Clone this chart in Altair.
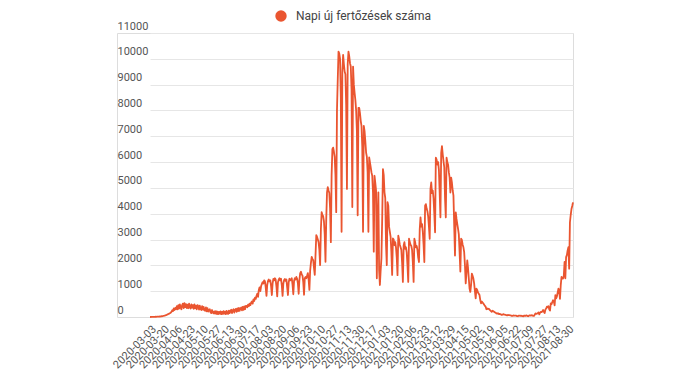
import altair as alt
import pandas as pd

START_DATE = "2020-03-03"
SERIES_NAME = "Napi új fertőzések száma"
LINE_COLOR = "#ea5530"

TICK_DATES = [
    "2020-03-03", "2020-03-20", "2020-04-06", "2020-04-23", "2020-05-10",
    "2020-05-27", "2020-06-13", "2020-06-30", "2020-07-17", "2020-08-03",
    "2020-08-20", "2020-09-06", "2020-09-23", "2020-10-10", "2020-10-27",
    "2020-11-13", "2020-11-30", "2020-12-17", "2021-01-03", "2021-01-20",
    "2021-02-06", "2021-02-23", "2021-03-12", "2021-03-29", "2021-04-15",
    "2021-05-02", "2021-05-19", "2021-06-05", "2021-06-22", "2021-07-09",
    "2021-07-27", "2021-08-13", "2021-08-30",
]
Y_TICKS = [0, 1000, 2000, 3000, 4000, 5000, 6000, 7000, 8000, 9000, 10000, 11000]

# daily values, one row per week
cases_spring_2020 = [
    2, 0, 3, 2, 5, 4, 7,
    9, 8, 12, 13, 11, 19, 17,
    25, 30, 28, 40, 45, 50, 60,
    70, 85, 100, 115, 130, 150, 165,
    200, 260, 230, 330, 270, 350, 300,
    420, 300, 460, 330, 490, 360, 300,
    470, 520, 340, 540, 380, 500, 350,
    480, 340, 520, 380, 330, 490, 360,
    460, 320, 490, 340, 440, 300, 460,
    420, 290, 440, 310, 270, 420, 290,
    390, 260, 240, 370, 220, 340, 210,
]
cases_summer_2020 = [
    260, 300, 180, 150, 270, 170, 140,
    220, 130, 230, 120, 210, 110, 200,
    130, 220, 110, 200, 120, 230, 130,
    210, 110, 240, 140, 120, 250, 150,
    230, 280, 150, 260, 300, 170, 280,
    310, 200, 330, 230, 350, 240, 330,
    370, 260, 390, 280, 410, 300, 430,
    430, 380, 480, 420, 520, 460, 560,
    600, 520, 680, 620, 750, 700, 820,
    900, 780, 1050, 1150, 1000, 1200, 1280,
    1350, 1300, 1420, 1380, 1150, 820, 1250,
    1400, 1450, 1380, 1420, 1200, 850, 1300,
    1480, 1420, 1500, 1450, 1180, 800, 1350,
    1450, 1500, 1420, 1480, 1220, 820, 1300,
    1430, 1470, 1400, 1450, 1150, 850, 1350,
    1480, 1420, 1450, 1500, 1250, 880, 1400,
    1500, 1450, 1550, 1480, 1300, 900, 1450,
    1700, 1750, 1650, 1600, 1350, 860, 1500,
]
cases_autumn_2020 = [
    1550, 1500, 1600, 1700, 1450, 1050, 1800,
    2100, 2330, 2250, 2200, 1900, 1630, 2400,
    3170, 3100, 3000, 2900, 2600, 2010, 3400,
    4060, 3950, 3900, 3700, 3200, 2140, 3800,
    4830, 5030, 4900, 4800, 4200, 2900, 5500,
    6500, 6560, 6400, 6200, 5500, 4060, 8000,
    9190, 10280, 10200, 10000, 8500, 3300, 9500,
    10150, 9800, 9510, 9400, 8200, 4960, 9800,
    10280, 10100, 9830, 9700, 8800, 4260, 9700,
    9000, 8680, 8400, 8000, 7200, 3940, 8100,
    8100, 7900, 7600, 7400, 6600, 3300, 7400,
    7200, 6800, 6370, 6200, 5600, 3300, 6180,
    6000, 5800, 5600, 5470, 4800, 2530, 5470,
]
cases_winter_2021 = [
    5200, 4900, 1500, 3800, 4830, 1800, 1240,
    1800, 2270, 3800, 5730, 5500, 4830, 4600,
    2800, 2010, 4450, 4300, 3490, 3300, 3100,
    2500, 1630, 3040, 3000, 2780, 2900, 2700,
    2300, 1620, 3150, 3000, 2800, 2700, 2600,
    2100, 1360, 2770, 2900, 2640, 2700, 2500,
    2000, 1360, 3030, 2900, 2800, 2750, 2600,
    2100, 1360, 3030, 2900, 2700, 2750, 2600,
    2300, 2130, 3410, 3860, 3500, 3600, 3300,
    2800, 2130, 4310, 4370, 4200, 4100, 3900,
    3500, 3030, 4950, 5210, 4800, 4900, 4600,
    4000, 3280, 6170, 6100, 5900, 6000, 5700,
    4800, 3860, 6360, 6620, 6300, 6040, 5800,
    4600, 3860, 6170, 6000, 5900, 5600, 5400,
]
cases_spring_summer_2021 = [
    4820, 5400, 5200, 4900, 4700, 3500, 2380,
    4050, 3800, 3600, 3410, 3200, 2510, 1760,
    3030, 2980, 2800, 2700, 2510, 2000, 1300,
    1740, 2190, 1900, 1500, 1100, 970, 1240,
    1680, 1600, 1490, 1300, 1000, 720, 1100,
    1050, 950, 900, 850, 650, 530, 600,
    560, 520, 480, 430, 400, 300, 330,
    310, 320, 290, 260, 230, 200, 240,
    220, 200, 180, 170, 140, 130, 150,
    115, 120, 110, 100, 80, 90, 110,
    95, 90, 85, 70, 60, 80, 75,
    70, 65, 60, 45, 40, 60, 55,
    50, 55, 50, 35, 30, 55, 50,
    45, 50, 45, 30, 28, 50, 55,
    45, 60, 50, 35, 30, 60, 65,
    55, 70, 60, 45, 40, 90, 140,
    120, 130, 150, 180, 100, 170, 200,
    190, 220, 270, 200, 150, 290, 330,
    400, 380, 420, 300, 250, 530, 500,
    580, 650, 600, 450, 850, 720, 800,
    950, 1100, 1000, 700, 1230, 1550, 1500,
    1490, 1600, 2130, 1500, 2320, 2400, 2580,
    2700, 1870, 3670, 3950, 4180, 4300, 4440,
]

values = (cases_spring_2020 + cases_summer_2020 + cases_autumn_2020
          + cases_winter_2021 + cases_spring_summer_2021)
dates = pd.date_range(START_DATE, periods=len(values), freq="D")
df = pd.DataFrame({"datum": dates, "eset": values, "sorozat": SERIES_NAME})

tick_values = [
    alt.DateTime(year=int(s[:4]), month=int(s[5:7]), date=int(s[8:10]))
    for s in TICK_DATES
]

chart = (
    alt.Chart(df)
    .mark_line(strokeWidth=1.8, strokeJoin="round")
    .encode(
        x=alt.X(
            "datum:T",
            scale=alt.Scale(range=[33, 456], nice=False),
            axis=alt.Axis(
                values=tick_values, format="%Y-%m-%d", labelAngle=-45,
                title=None, grid=False, ticks=False, domain=False,
                labelFontSize=11, labelColor="#555555", labelPadding=6,
                labelFlush=False, labelOverlap=False,
            ),
        ),
        y=alt.Y(
            "eset:Q",
            scale=alt.Scale(domain=[0, 11000], nice=False),
            axis=alt.Axis(
                values=Y_TICKS, format="d", title=None, orient="left",
                labelAlign="left", labelBaseline="alphabetic", labelOffset=-4,
                labelPadding=0, tickSize=0, ticks=False, domain=False,
                gridColor="#e6e6e6", gridWidth=1, labelColor="#555555",
                labelFontSize=11, labelFlush=False,
            ),
        ),
        color=alt.Color(
            "sorozat:N",
            scale=alt.Scale(range=[LINE_COLOR]),
            legend=alt.Legend(
                title=None, orient="none", legendX=158, legendY=-23,
                symbolType="circle", symbolSize=130,
                symbolFillColor=LINE_COLOR, symbolStrokeColor=LINE_COLOR,
                symbolStrokeWidth=0, labelFontSize=12, labelColor="#444444",
                labelOffset=9, padding=0,
            ),
        ),
    )
    .properties(
        width=456, height=284,
        autosize=alt.AutoSizeParams(type="none"),
        padding={"left": 109, "top": 25, "right": 100, "bottom": 60},
    )
    .configure_view(stroke=None)
    .configure(font="Roboto")
)

chart.save("out.html", embed_options={"renderer": "svg", "actions": False})
